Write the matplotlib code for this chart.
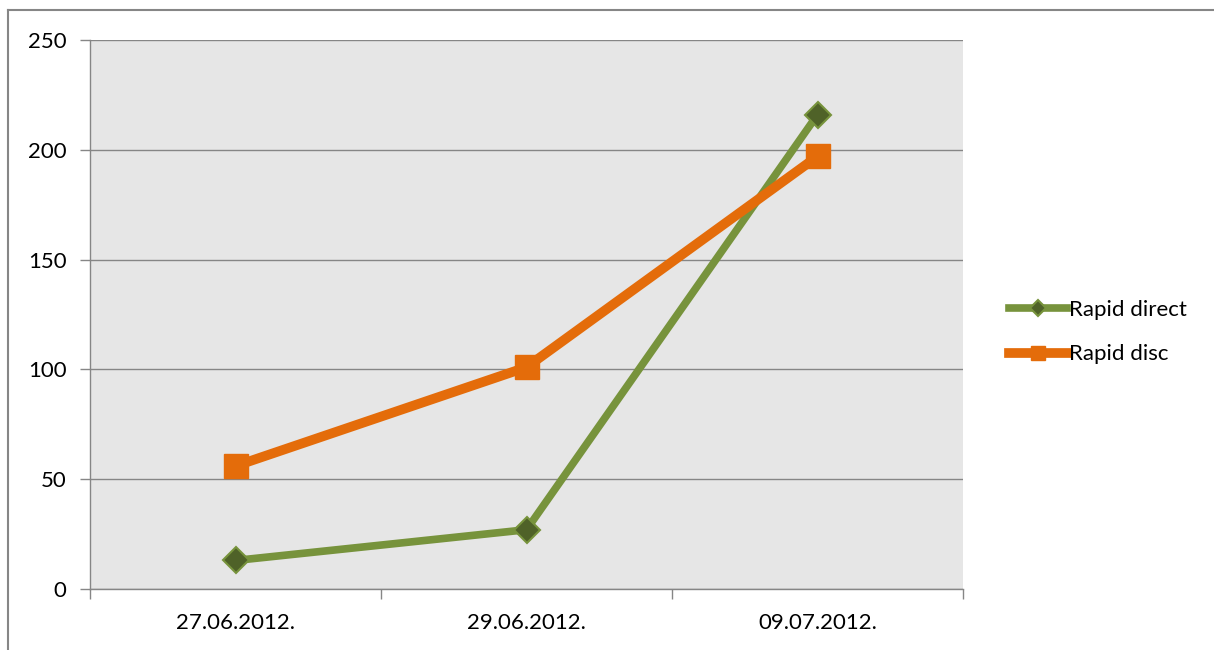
import numpy as np
import matplotlib.pyplot as plt
from matplotlib.lines import Line2D

# chart data
dates = ["27.06.2012.", "29.06.2012.", "09.07.2012."]
rapid_direct = [13, 27, 216]
rapid_disc = [56, 101, 197]
y_ticks = [0, 50, 100, 150, 200, 250]

GRID = '#868686'
GREEN = '#77933C'
GREEN_DARK = '#4F6228'
ORANGE = '#E46C0A'

plt.rcParams['font.family'] = ['Lato', 'DejaVu Sans']

fig = plt.figure(figsize=(12.14, 6.5), dpi=100)
ax = fig.add_axes([90 / 1214, 61 / 650, 873 / 1214, 549 / 650])
ax.set_facecolor('#E6E6E6')

x = np.arange(len(dates))
ax.plot(x, rapid_direct, color=GREEN, lw=5.5, marker='D', ms=13,
        mfc=GREEN_DARK, mec=GREEN, mew=1.5, label='Rapid direct', zorder=3)
ax.plot(x, rapid_disc, color=ORANGE, lw=7, marker='s', ms=17,
        mfc=ORANGE, mec=ORANGE, label='Rapid disc', zorder=4)

ax.set_xlim(-0.5, len(dates) - 0.5)
ax.set_ylim(0, 250)
ax.set_yticks(y_ticks)
ax.set_xticks(np.arange(len(dates) + 1) - 0.5)
ax.set_xticklabels([])
ax.set_xticks(x, minor=True)
ax.set_xticklabels(dates, minor=True)
ax.tick_params(axis='x', which='major', length=7, color=GRID, width=1)
ax.tick_params(axis='x', which='minor', length=0, pad=17, labelsize=16)
ax.tick_params(axis='y', length=7, color=GRID, width=1, labelsize=16, pad=10)

ax.yaxis.grid(True, color=GRID, lw=1)
ax.set_axisbelow(True)
for s in ['top', 'right']:
    ax.spines[s].set_visible(False)
for s in ['left', 'bottom']:
    ax.spines[s].set_color(GRID)
    ax.spines[s].set_linewidth(1)

ax.legend(loc='center left', bbox_to_anchor=(1.03, 0.468), frameon=False,
          fontsize=16, handlelength=2.6, handletextpad=0.1, labelspacing=1.1,
          markerscale=0.6)

# outer chart border (only top and left visible)
fig.add_artist(Line2D([8 / 1214, 1], [1 - 10 / 650, 1 - 10 / 650],
                      transform=fig.transFigure, color=GRID, lw=1.5))
fig.add_artist(Line2D([8 / 1214, 8 / 1214], [0, 1 - 10 / 650],
                      transform=fig.transFigure, color=GRID, lw=1.5))

fig.savefig('out.png', dpi=100)
